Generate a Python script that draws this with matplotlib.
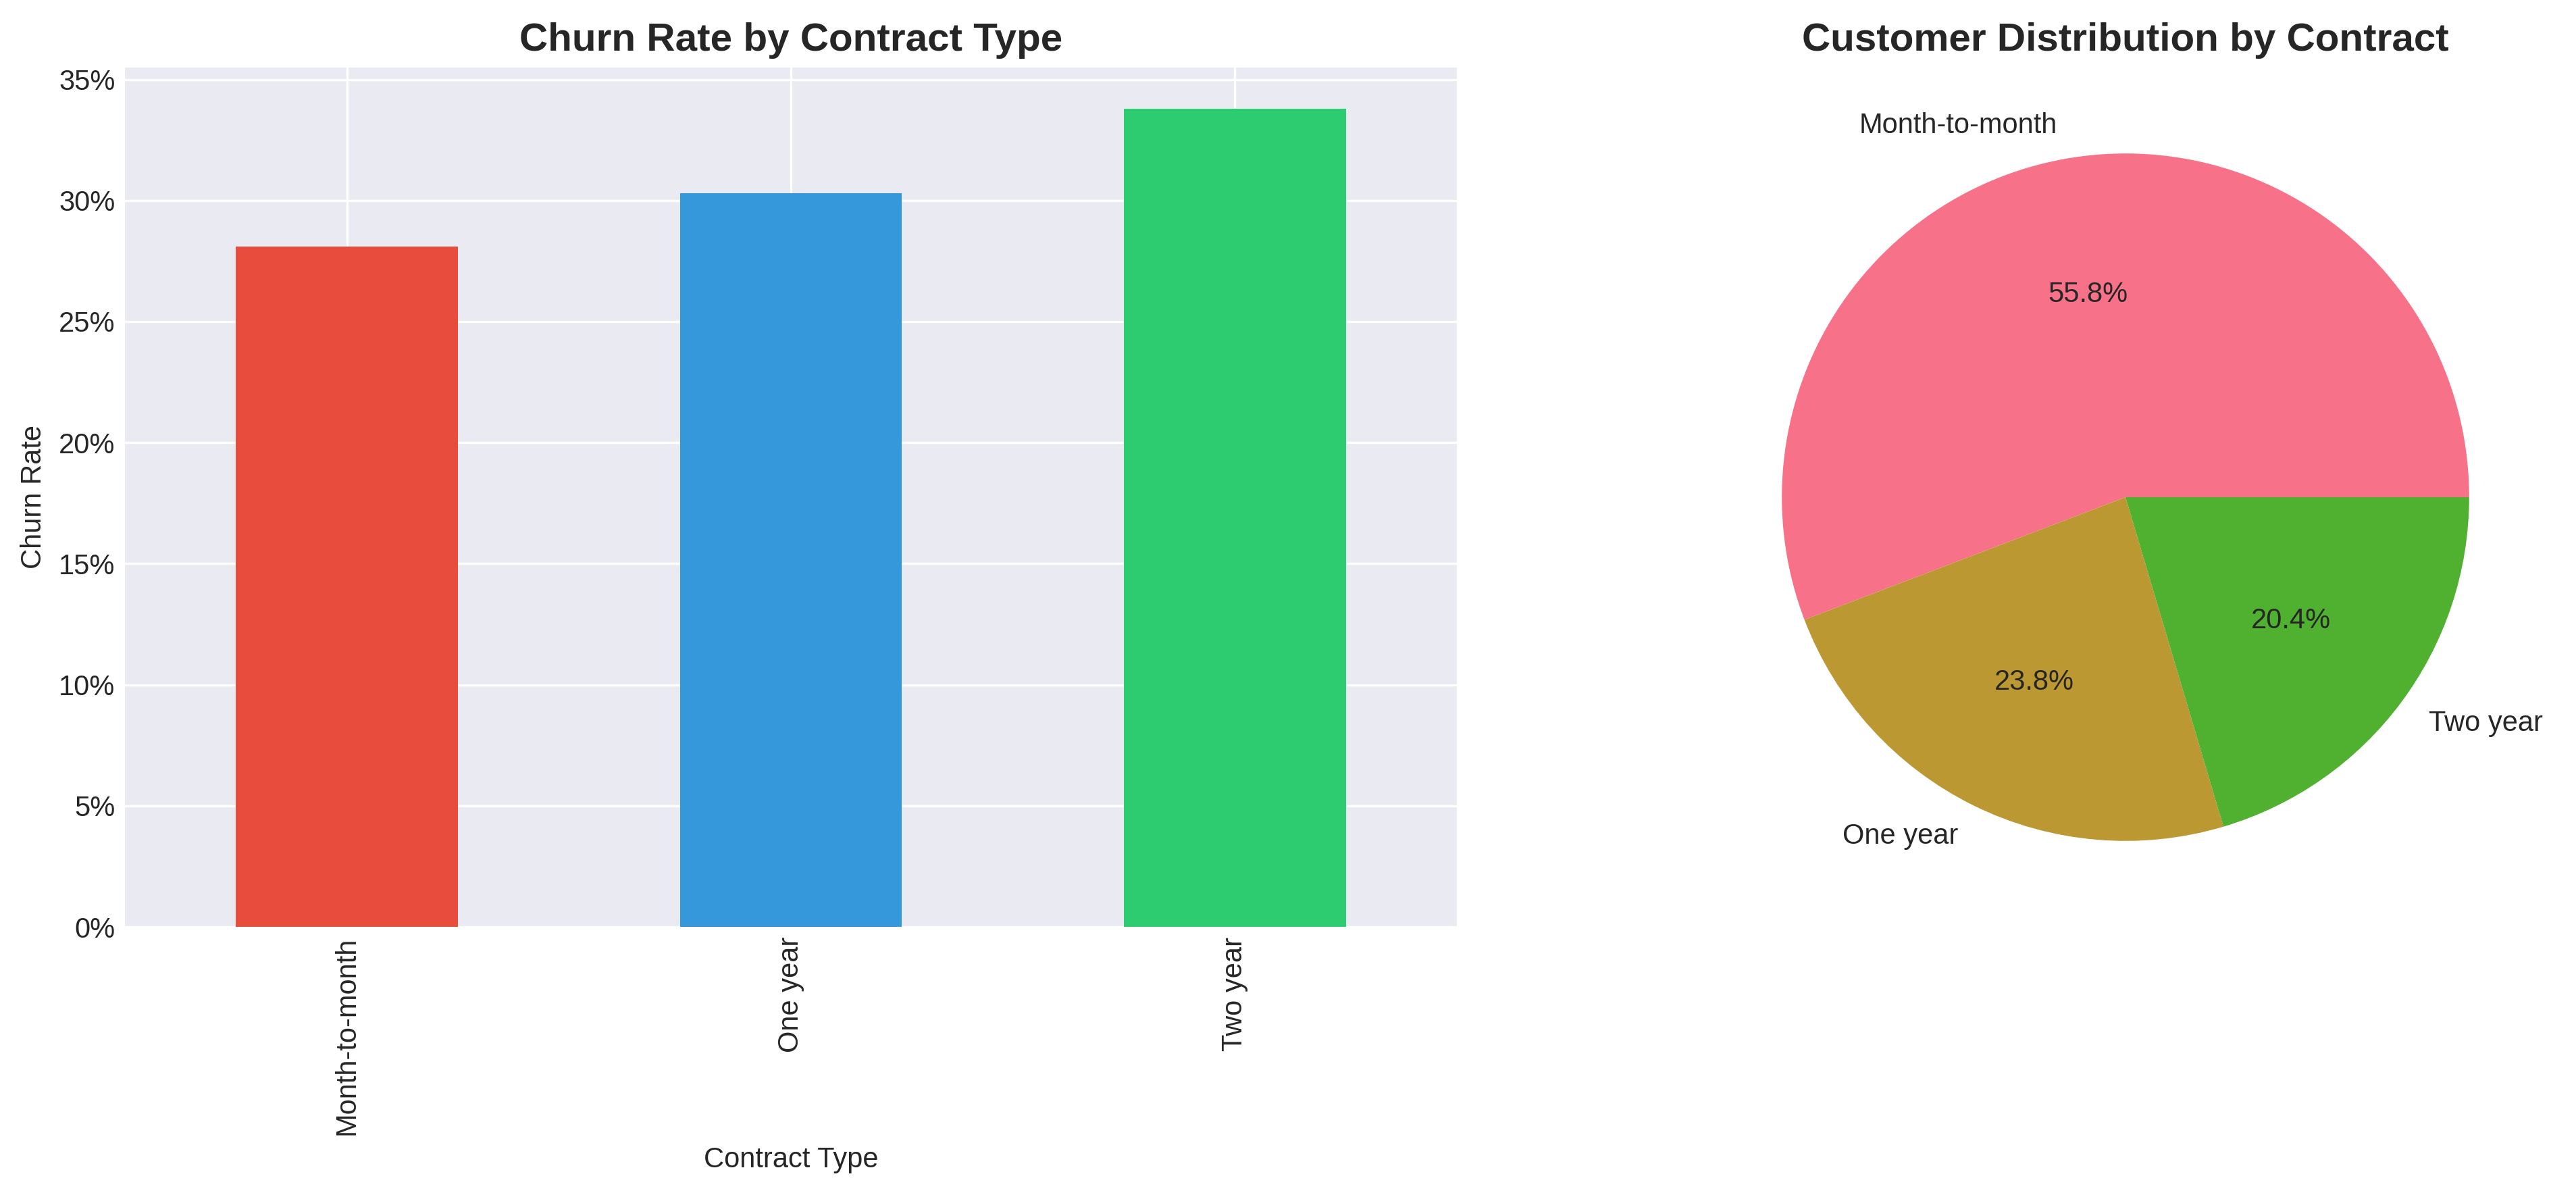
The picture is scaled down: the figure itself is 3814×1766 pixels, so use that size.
import matplotlib
matplotlib.use('Agg')
import matplotlib.pyplot as plt
from matplotlib.ticker import PercentFormatter

# 데이터
contracts = ['Month-to-month', 'One year', 'Two year']
churn_rate = [0.281, 0.303, 0.338]
customer_share = [55.8, 23.8, 20.4]
bar_colors = ['#e74c3c', '#3498db', '#2ecc71']
pie_colors = ['#f77189', '#bb9832', '#50b131']

plt.style.use('seaborn-v0_8-darkgrid')
plt.rcParams['font.family'] = ['Liberation Sans', 'DejaVu Sans']

fig = plt.figure(figsize=(3814 / 300, 1766 / 300), dpi=300)
ax1 = fig.add_axes([185 / 3814, 1 - 1372 / 1766, 1972 / 3814, 1272 / 1766])
ax2 = fig.add_axes([2508 / 3814, 1 - 1372 / 1766, 1278 / 3814, 1272 / 1766])

# 계약 유형별 이탈률
x = range(len(contracts))
ax1.bar(x, churn_rate, width=0.5, color=bar_colors)
ax1.set_xticks(list(x))
ax1.set_xticklabels(contracts, rotation=90)
ax1.set_xlim(-0.5, len(contracts) - 0.5)
ax1.yaxis.set_major_formatter(PercentFormatter(1.0, decimals=0))
ax1.set_title('Churn Rate by Contract Type', fontsize=14, fontweight='bold')
ax1.set_xlabel('Contract Type')
ax1.set_ylabel('Churn Rate')

# 계약 유형별 고객 분포
ax2.pie(customer_share, labels=contracts, autopct='%1.1f%%', colors=pie_colors)
ax2.set_title('Customer Distribution by Contract', fontsize=14, fontweight='bold')

fig.savefig('out.png', dpi=300)
